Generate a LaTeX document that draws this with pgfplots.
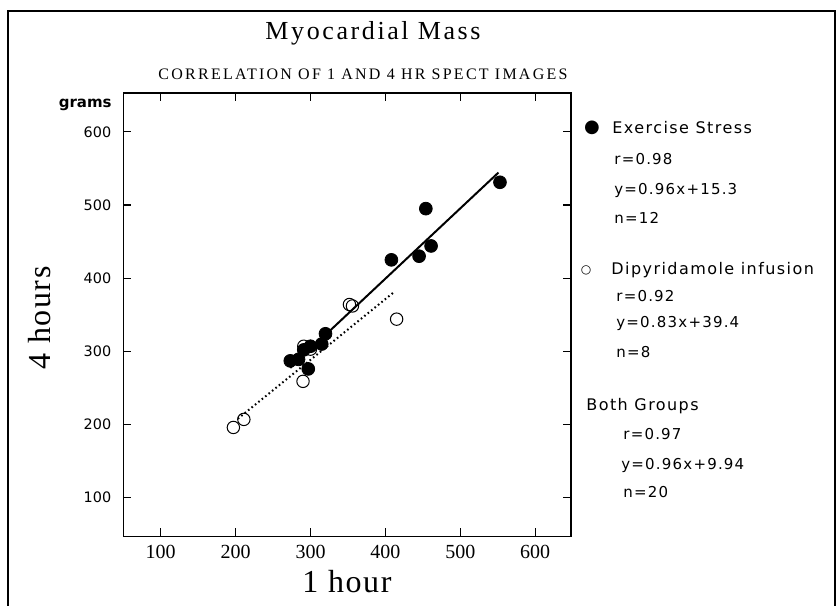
\documentclass[border=0pt]{standalone}
\usepackage{fontspec}
\setmainfont{DejaVu Sans}
\newfontfamily\titlefont[LetterSpace=10]{Liberation Serif}
\newfontfamily\subfont[LetterSpace=14]{Liberation Serif}
\newfontfamily\labfont[LetterSpace=5]{Liberation Serif}
\newfontfamily\tickfont{Liberation Serif}
\newfontfamily\legfont[LetterSpace=8]{DejaVu Sans}
\newfontfamily\headfont[LetterSpace=9]{DejaVu Sans}
\newfontfamily\symfont{DejaVu Sans}
\usepackage{pgfplots}
\pgfplotsset{compat=1.18}

% picture pixel (x from left, y from top) -> pt
\newcommand{\pp}[2]{({(#1)*0.5pt},{(606-(#2))*0.5pt})}

\begin{document}
\begin{tikzpicture}
\useasboundingbox (0,0) rectangle (418.5pt,303pt);
\draw[line width=0.8pt] \pp{8}{606} -- \pp{8}{11} -- \pp{835}{11} -- \pp{835}{606};

\begin{axis}[
    at={(61.65pt,34.75pt)}, anchor=south west,
    scale only axis, width=223.9pt, height=221.75pt,
    xmin=50, xmax=648, ymin=47, ymax=653,
    xtick={100,200,...,600}, ytick={100,200,...,600},
    tick align=inside, major tick length=4pt,
    axis line style={line width=0.7pt},
    every tick/.style={black, line width=0.6pt},
    /pgf/number format/assume math mode=true,
    xticklabel style={font=\tickfont\fontsize{10}{10}\selectfont, yshift=-1pt},
    yticklabel style={font=\fontsize{7.2}{7.2}\selectfont, xshift=-2.5pt},
    clip=false,
]
% regression lines
\addplot[black, line width=1pt] coordinates {(273,277.4) (551,544.3)};
\addplot[black, line width=1pt, dash pattern=on 0.8pt off 1.4pt] coordinates {(203,207.9) (410,379.7)};
% Dipyridamole infusion
\addplot[only marks, mark=o, mark size=3.1pt, black, mark options={line width=0.5pt}] coordinates {
  (197,196) (211,207) (290,259) (352,364) (356,362) (415,344) (291,307) (300,303)};
% Exercise stress
\addplot[only marks, mark=*, mark size=3.2pt, black] coordinates {
  (553,531) (454,495) (461,444) (445,430) (408,425) (320,324)
  (315,310) (291,302) (300,307) (273,287) (284,289) (297,276)};
\end{axis}

\node[font=\titlefont\fontsize{13}{13}\selectfont] at \pp{373}{33} {Myocardial Mass};
\node[font=\subfont\fontsize{8}{8}\selectfont] at \pp{363}{74} {CORRELATION OF 1 AND 4 HR SPECT IMAGES};
\node[anchor=east, font=\bfseries\fontsize{7.5}{7.5}\selectfont, inner sep=0] at \pp{112}{105} {grams};
\node[rotate=90, font=\labfont\fontsize{16}{16}\selectfont] at \pp{40}{318} {4 hours};
\node[font=\labfont\fontsize{16}{16}\selectfont] at \pp{347}{582} {1 hour};

\begin{scope}[every node/.style={anchor=west, inner sep=0, font=\legfont\fontsize{7.5}{7.5}\selectfont}]
\node[anchor=center, font=\symfont\fontsize{9}{9}\selectfont] at \pp{592}{128} {●};
\node[font=\headfont\fontsize{8}{8}\selectfont] at \pp{612}{128} {Exercise Stress};
\node at \pp{614}{159} {r=0.98};
\node at \pp{614}{190} {y=0.96x+15.3};
\node at \pp{614}{218} {n=12};
\node[anchor=center, font=\symfont\fontsize{6}{6}\selectfont] at \pp{586}{270} {○};
\node[font=\headfont\fontsize{8}{8}\selectfont] at \pp{611}{270} {Dipyridamole infusion};
\node at \pp{616}{296} {r=0.92};
\node at \pp{616}{323} {y=0.83x+39.4};
\node at \pp{616}{352} {n=8};
\node[font=\headfont\fontsize{8}{8}\selectfont] at \pp{586}{406} {Both Groups};
\node at \pp{623}{434} {r=0.97};
\node at \pp{621}{465} {y=0.96x+9.94};
\node at \pp{623}{492} {n=20};
\end{scope}
\end{tikzpicture}
\end{document}
